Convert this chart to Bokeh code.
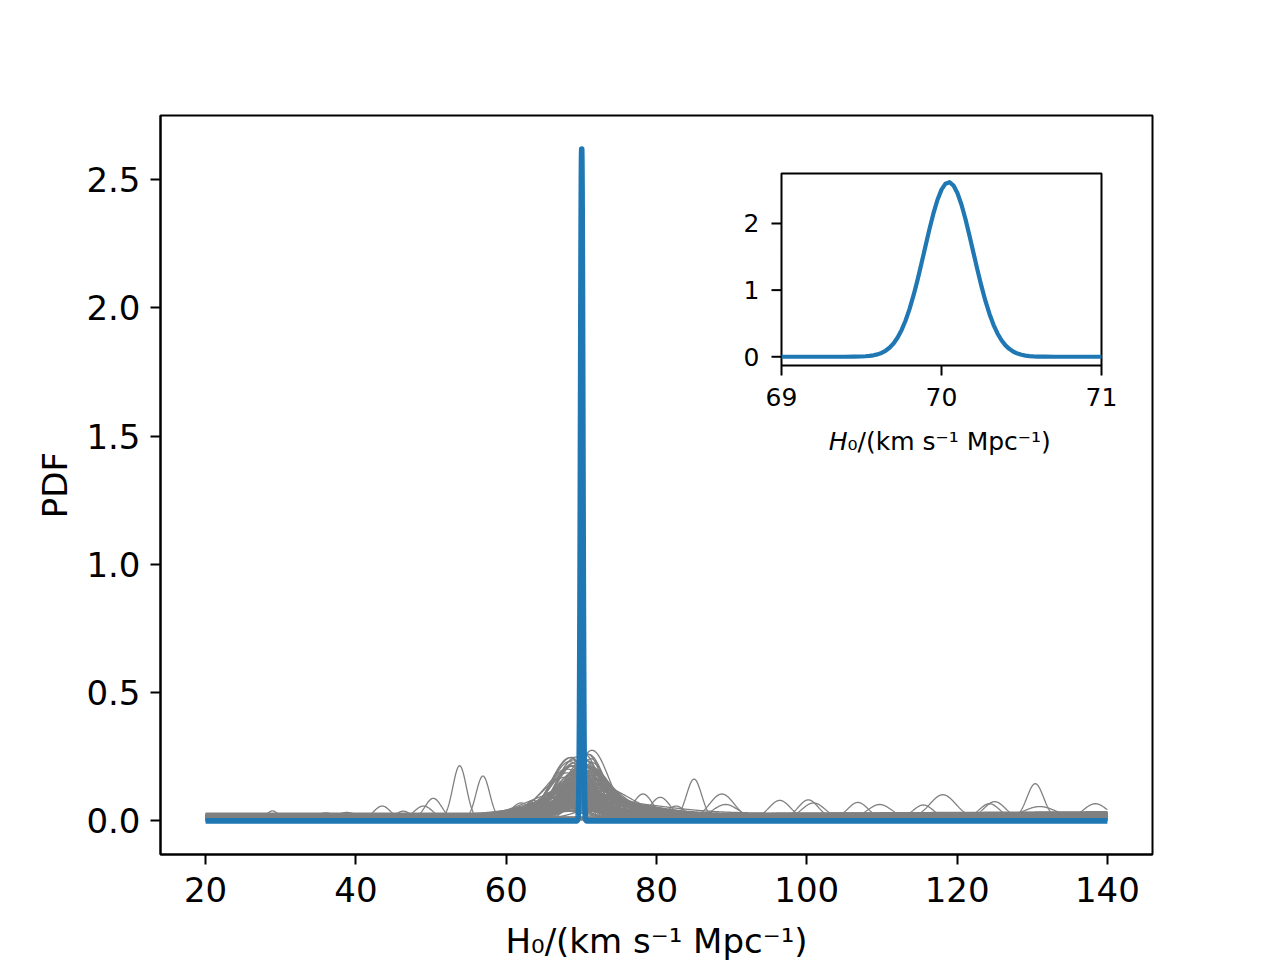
import numpy as np
from bokeh.plotting import figure
from bokeh.models import Range1d, FixedTicker, PrintfTickFormatter, Label
from bokeh.core.properties import value
from bokeh.embed import file_html
from bokeh.resources import INLINE

# ---------------- data ----------------
# combined posterior (blue)
blue_x = [20.0, 69.0, 69.30, 69.40, 69.45, 69.500, 69.525, 69.550, 69.575, 69.600,
          69.625, 69.650, 69.675, 69.700, 69.725, 69.750, 69.775, 69.800, 69.825, 69.850,
          69.875, 69.900, 69.925, 69.950, 69.975, 70.000, 70.025, 70.050, 70.075, 70.100,
          70.125, 70.150, 70.175, 70.200, 70.225, 70.250, 70.275, 70.300, 70.325, 70.350,
          70.375, 70.400, 70.425, 70.450, 70.475, 70.500, 70.525, 70.550, 70.575, 70.600,
          70.650, 70.700, 71.0, 140.0]
blue_y = [0.0, 0.0, 0.0, 0.0, 0.0015, 0.004, 0.0075, 0.013, 0.022, 0.036,
          0.058, 0.090, 0.136, 0.199, 0.286, 0.399, 0.541, 0.715, 0.920, 1.150,
          1.402, 1.662, 1.919, 2.155, 2.356, 2.508, 2.597, 2.619, 2.569, 2.454,
          2.281, 2.064, 1.817, 1.558, 1.300, 1.056, 0.834, 0.642, 0.480, 0.350,
          0.248, 0.171, 0.115, 0.075, 0.048, 0.030, 0.018, 0.0105, 0.006, 0.003,
          0.001, 0.0, 0.0, 0.0]

# gray single-event posteriors peaking near the true value:
# peak position, peak height, left / right widths, baseline at H0=20 and at H0=140
cl_center = [66.8, 67.2, 67.6, 67.9, 68.1, 68.3, 68.4, 68.5, 68.6, 68.7,
             68.8, 68.9, 69.0, 69.0, 69.1, 69.2, 69.2, 69.3, 69.3, 69.4,
             69.4, 69.5, 69.5, 69.6, 69.6, 69.7, 69.7, 69.8, 69.8, 69.9,
             70.2, 70.3, 70.4, 70.5, 70.5, 70.6, 70.7, 70.8, 70.8, 70.9,
             71.0, 71.0, 71.1, 71.2, 71.3, 71.4, 71.4, 71.5, 71.6, 71.7,
             71.8, 72.0, 72.2, 72.5, 73.0, 73.5, 70.6, 71.0, 71.2, 70.4]
cl_height = [0.09, 0.11, 0.12, 0.15, 0.18, 0.20, 0.22, 0.23, 0.21, 0.24,
             0.19, 0.235, 0.17, 0.22, 0.20, 0.16, 0.12, 0.24, 0.13, 0.20,
             0.09, 0.23, 0.10, 0.18, 0.07, 0.22, 0.08, 0.20, 0.14, 0.16,
             0.22, 0.20, 0.24, 0.18, 0.25, 0.22, 0.15, 0.255, 0.20, 0.23,
             0.17, 0.25, 0.21, 0.19, 0.24, 0.265, 0.14, 0.22, 0.18, 0.20,
             0.16, 0.15, 0.13, 0.10, 0.08, 0.06, 0.10, 0.07, 0.12, 0.09]
cl_wleft = [3.4, 3.0, 3.0, 3.2, 2.6, 2.8, 2.4, 2.5, 2.2, 2.7,
            3.4, 2.3, 2.9, 2.5, 3.1, 2.0, 3.6, 2.6, 3.8, 2.2,
            4.2, 2.8, 4.0, 2.4, 4.5, 2.1, 3.5, 2.5, 3.0, 2.7,
            2.3, 2.5, 2.2, 2.8, 2.0, 2.4, 3.0, 2.1, 2.6, 2.3,
            3.1, 2.2, 2.5, 2.7, 2.3, 2.1, 3.3, 2.4, 2.6, 2.2,
            2.8, 2.5, 2.7, 2.8, 3.0, 3.2, 3.5, 4.0, 3.0, 3.8]
cl_wright = [2.8, 2.6, 2.2, 2.5, 2.0, 1.8, 2.4, 2.0, 2.6, 1.9,
             2.8, 2.1, 2.3, 1.7, 2.5, 2.2, 3.0, 1.9, 3.0, 2.4,
             3.5, 2.0, 3.2, 2.6, 4.0, 2.0, 3.0, 2.3, 2.8, 2.5,
             1.9, 2.2, 1.8, 2.6, 1.9, 2.3, 3.0, 2.0, 2.5, 1.7,
             3.2, 2.1, 2.4, 2.8, 2.0, 2.2, 3.5, 1.9, 2.6, 2.3,
             2.9, 2.7, 3.0, 3.3, 3.0, 3.5, 4.5, 5.5, 4.0, 5.0]
cl_base_lo = [0.004, 0.010, 0.002, 0.015, 0.006, 0.000, 0.008, 0.012, 0.003, 0.005,
              0.018, 0.001, 0.009, 0.004, 0.011, 0.002, 0.014, 0.006, 0.020, 0.003,
              0.007, 0.001, 0.013, 0.005, 0.016, 0.002, 0.010, 0.004, 0.008, 0.006,
              0.003, 0.009, 0.001, 0.012, 0.005, 0.000, 0.017, 0.004, 0.008, 0.002,
              0.011, 0.006, 0.003, 0.015, 0.001, 0.007, 0.019, 0.004, 0.010, 0.002,
              0.013, 0.005, 0.008, 0.012, 0.016, 0.006, 0.009, 0.004, 0.011, 0.007]
cl_base_hi = [0.012, 0.020, 0.006, 0.028, 0.010, 0.004, 0.016, 0.024, 0.008, 0.012,
              0.030, 0.005, 0.018, 0.009, 0.022, 0.006, 0.026, 0.013, 0.034, 0.007,
              0.015, 0.004, 0.025, 0.011, 0.031, 0.006, 0.019, 0.010, 0.017, 0.014,
              0.008, 0.018, 0.004, 0.023, 0.011, 0.003, 0.032, 0.009, 0.016, 0.006,
              0.021, 0.013, 0.007, 0.027, 0.004, 0.015, 0.036, 0.010, 0.020, 0.005,
              0.024, 0.012, 0.017, 0.022, 0.029, 0.013, 0.018, 0.009, 0.021, 0.015]

# broader gray posteriors that fill the shoulders around the peak
wide_center = [67.0, 67.5, 68.0, 68.2, 68.5, 68.7, 68.9, 69.0, 69.1, 69.2,
               69.3, 69.4, 69.5, 69.6, 69.7, 67.8, 68.4, 68.8, 69.0, 69.3,
               69.5, 69.7, 66.5, 67.3, 68.6, 69.1, 69.4, 69.6, 69.8, 69.9,
               70.3, 70.4, 70.5, 70.6, 70.7, 70.8, 70.9, 71.0, 71.1, 71.2,
               71.3, 71.4, 71.5, 71.6, 71.8, 72.0, 72.3, 72.6, 73.0, 70.4,
               70.6, 70.9, 71.2, 71.5, 71.9, 72.4, 70.5, 70.8, 71.1, 71.7]
wide_height = [0.05, 0.07, 0.09, 0.06, 0.11, 0.08, 0.13, 0.05, 0.10, 0.14,
               0.07, 0.12, 0.06, 0.15, 0.09, 0.04, 0.10, 0.16, 0.12, 0.05,
               0.17, 0.11, 0.035, 0.06, 0.14, 0.08, 0.19, 0.13, 0.18, 0.12,
               0.18, 0.12, 0.15, 0.08, 0.19, 0.10, 0.14, 0.06, 0.16, 0.09,
               0.13, 0.05, 0.11, 0.08, 0.07, 0.09, 0.06, 0.05, 0.045, 0.21,
               0.17, 0.12, 0.10, 0.14, 0.08, 0.07, 0.23, 0.20, 0.18, 0.12]
wide_wleft = [5.0, 4.5, 6.0, 4.2, 5.5, 4.8, 4.0, 7.0, 4.6, 3.6,
              6.5, 4.3, 5.8, 3.4, 5.2, 7.5, 4.4, 3.2, 3.9, 6.8,
              3.0, 4.1, 6.0, 5.5, 3.3, 5.0, 2.9, 3.7, 3.1, 3.5,
              2.4, 3.0, 2.6, 3.5, 2.3, 3.2, 2.7, 4.0, 2.5, 3.4,
              2.8, 4.5, 3.0, 3.6, 3.8, 3.5, 4.0, 4.2, 4.5, 2.2,
              2.4, 2.9, 3.1, 2.7, 3.3, 3.6, 2.1, 2.3, 2.5, 3.0]
wide_wright = [3.5, 3.0, 4.0, 2.8, 3.6, 3.2, 2.7, 5.0, 3.1, 2.4,
               4.5, 2.9, 4.2, 2.3, 3.5, 5.5, 3.0, 2.2, 2.6, 4.8,
               2.1, 2.8, 4.0, 3.8, 2.3, 3.4, 2.0, 2.5, 2.2, 2.4,
               3.2, 4.5, 3.8, 5.5, 3.0, 5.0, 4.0, 6.5, 3.6, 5.2,
               4.2, 7.0, 4.8, 5.5, 6.0, 5.0, 6.5, 7.0, 7.5, 2.8,
               3.0, 4.2, 4.6, 3.8, 5.0, 5.5, 2.6, 2.9, 3.2, 4.4]
wide_base = [0.006, 0.012, 0.003, 0.018, 0.009, 0.002, 0.014, 0.007, 0.021, 0.004,
             0.011, 0.016, 0.005, 0.010, 0.019, 0.008, 0.013, 0.003, 0.017, 0.022,
             0.006, 0.012, 0.009, 0.015, 0.004, 0.020, 0.007, 0.011, 0.014, 0.002,
             0.010, 0.018, 0.005, 0.023, 0.008, 0.013, 0.016, 0.026, 0.004, 0.019,
             0.012, 0.028, 0.009, 0.015, 0.021, 0.007, 0.024, 0.017, 0.030, 0.003,
             0.011, 0.014, 0.020, 0.006, 0.025, 0.018, 0.005, 0.009, 0.013, 0.022]

# long-tailed gray posteriors that make the low shoulders from ~58 to ~80
tail_center = [66.0, 66.8, 67.5, 68.0, 68.5, 69.0, 69.3, 69.6, 68.2, 67.2,
               70.5, 70.8, 71.2, 71.6, 72.0, 72.5, 73.0, 71.0, 70.6, 72.8]
tail_height = [0.040, 0.050, 0.060, 0.035, 0.070, 0.050, 0.080, 0.045, 0.030, 0.055,
               0.070, 0.050, 0.060, 0.040, 0.055, 0.035, 0.045, 0.080, 0.030, 0.050]
tail_wleft = [6.0, 5.5, 7.0, 8.0, 5.0, 6.5, 4.5, 7.5, 9.0, 5.8,
              4.0, 5.0, 4.5, 6.0, 5.5, 6.5, 5.0, 4.2, 7.0, 6.0]
tail_wright = [4.0, 4.5, 5.0, 6.0, 4.0, 5.5, 4.0, 6.0, 7.0, 4.5,
               6.0, 7.0, 5.5, 8.0, 6.5, 8.0, 7.0, 5.0, 9.0, 7.5]
tail_base = [0.005, 0.012, 0.008, 0.015, 0.003, 0.010, 0.006, 0.018, 0.009, 0.004,
             0.011, 0.007, 0.016, 0.005, 0.013, 0.009, 0.020, 0.006, 0.014, 0.010]

# isolated bumps of gray posteriors far from the true value
iso_center = [20.3, 28.9, 36.0, 38.8, 43.5, 46.3, 49.0, 50.3, 53.8, 56.9,
              62.0, 63.6, 78.2, 80.5, 82.6, 85.0, 88.7, 89.2, 96.4, 100.2,
              100.9, 106.8, 109.7, 115.5, 118.1, 124.3, 125.0, 130.4, 131.0, 138.4]
iso_height = [0.012, 0.035, 0.025, 0.025, 0.052, 0.032, 0.050, 0.082, 0.210, 0.170,
              0.060, 0.070, 0.095, 0.080, 0.050, 0.155, 0.095, 0.050, 0.070, 0.070,
              0.060, 0.060, 0.050, 0.050, 0.090, 0.055, 0.065, 0.135, 0.040, 0.055]
iso_width = [0.8, 0.8, 1.3, 1.3, 1.1, 1.0, 1.2, 1.1, 0.9, 0.9,
             1.3, 1.2, 1.3, 1.3, 1.2, 1.0, 1.6, 1.6, 1.4, 1.3,
             1.5, 1.3, 1.5, 1.3, 1.7, 1.3, 1.4, 1.1, 2.0, 1.5]
iso_base = [0.008, 0.004, 0.006, 0.008, 0.006, 0.006, 0.008, 0.006, 0.005, 0.005,
            0.010, 0.010, 0.010, 0.012, 0.008, 0.008, 0.010, 0.014, 0.010, 0.012,
            0.010, 0.012, 0.014, 0.012, 0.012, 0.012, 0.010, 0.010, 0.016, 0.012]

main_xticks = [20, 40, 60, 80, 100, 120, 140]
main_yticks = [0.0, 0.5, 1.0, 1.5, 2.0, 2.5]
inset_xticks = [69, 70, 71]
inset_yticks = [0, 1, 2]
x_label = "H\u2080/(km s\u207b\u00b9 Mpc\u207b\u00b9)"
x_label_italic = "H"
x_label_rest = "\u2080/(km s\u207b\u00b9 Mpc\u207b\u00b9)"
y_label = "PDF"

# ---------------- gray curves ----------------
grid = np.linspace(20.0, 140.0, 2401)


def bump_curve(c, h, wl, wr, b0, b1):
    w = np.where(grid < c, wl, wr)
    base = b0 + (b1 - b0) * (grid - 20.0) / 120.0
    return base + h * np.exp(-0.5 * ((grid - c) / w) ** 2)


gray_xs, gray_ys = [], []
for c, h, w, b in zip(iso_center, iso_height, iso_width, iso_base):
    gray_xs.append(grid)
    gray_ys.append(bump_curve(c, h, w, w, b, b))
for c, h, wl, wr, b in zip(tail_center, tail_height, tail_wleft, tail_wright, tail_base):
    gray_xs.append(grid)
    gray_ys.append(bump_curve(c, h, wl, wr, b, b))
for c, h, wl, wr, b in zip(wide_center, wide_height, wide_wleft, wide_wright, wide_base):
    gray_xs.append(grid)
    gray_ys.append(bump_curve(c, h, wl, wr, b, b))
for c, h, wl, wr, b0, b1 in zip(cl_center, cl_height, cl_wleft, cl_wright, cl_base_lo, cl_base_hi):
    gray_xs.append(grid)
    gray_ys.append(bump_curve(c, h, wl, wr, b0, b1))

# ---------------- geometry ----------------
BLUE = "#1f77b4"
FONT = "DejaVu Sans"
FRAME_W, FRAME_H = 992, 739
xmin, xmax = min(blue_x), max(blue_x)
ymax = max(blue_y)
xpad = 0.05 * (xmax - xmin)
ypad = 0.05 * ymax
x0, x1 = xmin - xpad, xmax + xpad
y0, y1 = -ypad, ymax + ypad

# inset frame box, in pixels from the main frame's top-left corner
IN_L, IN_R, IN_T, IN_B = 621, 941, 58, 250
ix_lo, ix_hi = inset_xticks[0], inset_xticks[-1]
iy_lo, iy_hi = y0, y1
ix_per_px = (ix_hi - ix_lo) / (IN_R - IN_L)
iy_per_px = (iy_hi - iy_lo) / (IN_B - IN_T)

# ---------------- main figure ----------------
p = figure(width=1280, height=960, frame_width=FRAME_W, frame_height=FRAME_H,
           min_border_left=160, min_border_right=128, min_border_top=115, min_border_bottom=106,
           output_backend="svg", toolbar_location=None,
           x_range=Range1d(x0, x1), y_range=Range1d(y0, y1),
           x_axis_label=x_label, y_axis_label=y_label)
p.extra_x_ranges = {"ix": Range1d(ix_lo - IN_L * ix_per_px, ix_hi + (FRAME_W - IN_R) * ix_per_px)}
p.extra_y_ranges = {"iy": Range1d(iy_lo - (FRAME_H - IN_B) * iy_per_px, iy_hi + IN_T * iy_per_px)}

p.multi_line(xs=gray_xs, ys=gray_ys, line_color="gray", line_width=1.3)
p.line(blue_x, blue_y, line_color=BLUE, line_width=5.6, line_join="round")

p.xaxis.ticker = FixedTicker(ticks=main_xticks)
p.yaxis.ticker = FixedTicker(ticks=main_yticks)
p.yaxis.formatter = PrintfTickFormatter(format="%.1f")
for ax in p.axis:
    ax.axis_line_color = "black"
    ax.axis_line_width = 2
    ax.major_tick_line_color = "black"
    ax.major_tick_line_width = 2
    ax.major_tick_out = 10
    ax.major_tick_in = 0
    ax.minor_tick_line_color = None
    ax.major_label_text_font = FONT
    ax.major_label_text_font_size = "34px"
    ax.major_label_text_color = "black"
    ax.axis_label_text_font = FONT
    ax.axis_label_text_font_size = "34px"
    ax.axis_label_text_font_style = "normal"
    ax.axis_label_text_color = "black"
p.xaxis.major_label_standoff = 12
p.yaxis.major_label_standoff = 10
p.xaxis.axis_label_standoff = 16
p.yaxis.axis_label_standoff = 8
p.xgrid.visible = False
p.ygrid.visible = False
p.outline_line_color = "black"
p.outline_line_width = 2

# ---------------- inset (drawn on its own ranges) ----------------
p.quad(left=[ix_lo], right=[ix_hi], bottom=[iy_lo], top=[iy_hi],
       fill_color="white", line_color="black", line_width=2,
       x_range_name="ix", y_range_name="iy")
in_x = [xv for xv in blue_x if ix_lo <= xv <= ix_hi]
in_y = [yv for xv, yv in zip(blue_x, blue_y) if ix_lo <= xv <= ix_hi]
p.line(in_x, in_y, line_color=BLUE, line_width=4.2, line_join="round",
       x_range_name="ix", y_range_name="iy")

TICK = 10
p.segment(x0=inset_xticks, y0=[iy_lo] * len(inset_xticks),
          x1=inset_xticks, y1=[iy_lo - TICK * iy_per_px] * len(inset_xticks),
          line_color="black", line_width=2, x_range_name="ix", y_range_name="iy")
p.segment(x0=[ix_lo] * len(inset_yticks), y0=inset_yticks,
          x1=[ix_lo - TICK * ix_per_px] * len(inset_yticks), y1=inset_yticks,
          line_color="black", line_width=2, x_range_name="ix", y_range_name="iy")
p.text(x=inset_xticks, y=[iy_lo - (TICK + 12) * iy_per_px] * len(inset_xticks),
       text=[str(t) for t in inset_xticks], text_font=value(FONT), text_font_size="25px",
       text_align="center", text_baseline="top", text_color="black",
       x_range_name="ix", y_range_name="iy")
p.text(x=[ix_lo - (TICK + 12) * ix_per_px] * len(inset_yticks), y=inset_yticks,
       text=[str(t) for t in inset_yticks], text_font=value(FONT), text_font_size="25px",
       text_align="right", text_baseline="middle", text_color="black",
       x_range_name="ix", y_range_name="iy")

in_lab_x = ix_lo + 66 * ix_per_px
in_lab_y = iy_lo - 76 * iy_per_px
p.add_layout(Label(x=in_lab_x, y=in_lab_y, x_range_name="ix", y_range_name="iy",
                   text=x_label_italic, text_font=FONT, text_font_size="25px",
                   text_font_style="italic", text_align="right", text_baseline="alphabetic",
                   text_color="black"))
p.add_layout(Label(x=in_lab_x, y=in_lab_y, x_range_name="ix", y_range_name="iy",
                   text=x_label_rest, text_font=FONT, text_font_size="25px",
                   text_align="left", text_baseline="alphabetic", text_color="black"))

open("out.html", "w").write(file_html(p, INLINE))
